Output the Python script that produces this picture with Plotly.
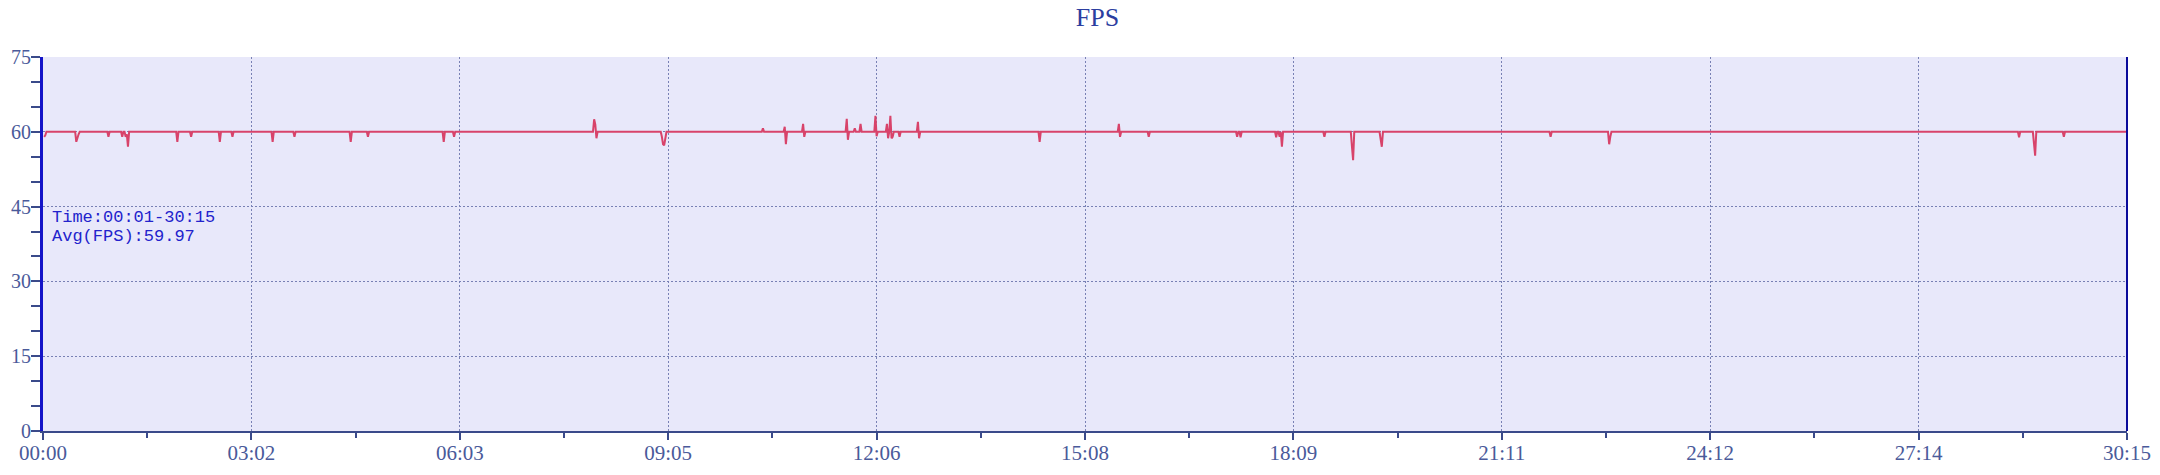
import plotly.graph_objects as go

# ---- data (seconds since start, FPS) ----
times = [1, 2, 3,
         28, 29, 30, 31, 32,
         56, 57, 58,
         68, 69, 70,
         71, 72, 73, 74, 75,
         116, 117, 118,
         128, 129, 130,
         153, 154, 155,
         164, 165, 166,
         199, 200, 201,
         218, 219, 220,
         267, 268, 269,
         282, 283, 284,
         348, 349, 350,
         357, 358, 359,
         479, 480, 481, 482, 483,
         538, 539, 540, 541, 542, 543,
         626, 627, 628,
         645, 646, 647, 648,
         661, 662, 663, 664,
         699, 700, 701, 702,
         706, 707, 708,
         711, 712, 713,
         724, 725, 726, 727,
         734, 735, 736, 737, 738, 739, 740, 741,
         745, 746, 747,
         761, 762, 763, 764,
         867, 868, 869,
         936, 937, 938, 939,
         962, 963, 964,
         1039, 1040, 1041, 1042, 1043, 1044,
         1073, 1074, 1075,
         1076, 1077, 1078, 1079, 1080,
         1115, 1116, 1117,
         1139, 1140, 1141, 1142,
         1164, 1165, 1166, 1167,
         1312, 1313, 1314,
         1363, 1364, 1365, 1366,
         1720, 1721, 1722,
         1733, 1734, 1735, 1736,
         1759, 1760, 1761,
         1815]
fps = [59, 59.3, 60,
       60, 58, 59, 59.5, 60,
       60, 59, 60,
       60, 59, 60,
       60, 59, 59.5, 57, 60,
       60, 58, 60,
       60, 59, 60,
       60, 58, 60,
       60, 59, 60,
       60, 58, 60,
       60, 59, 60,
       60, 58, 60,
       60, 59, 60,
       60, 58, 60,
       60, 59, 60,
       60, 62.5, 61.5, 58.7, 60,
       60, 59, 57.5, 57.3, 59, 60,
       60, 60.7, 60,
       60, 61, 57.5, 60,
       60, 61.6, 59, 60,
       60, 62.6, 58.4, 60,
       60, 60.7, 60,
       60, 61.6, 60,
       60, 63.2, 59.1, 60,
       60, 61.6, 58.7, 60, 63.2, 58.7, 59, 60,
       60, 59, 60,
       60, 62, 58.7, 60,
       60, 58, 60,
       60, 61.6, 59, 60,
       60, 59, 60,
       60, 59, 60, 60, 58.9, 60,
       60, 58.9, 60,
       60, 59, 60, 57, 60,
       60, 59, 60,
       60, 57, 54.3, 60,
       60, 58.5, 57, 60,
       60, 59, 60,
       60, 57.5, 59, 60,
       60, 58.9, 60,
       60, 57.6, 55.2, 60,
       60, 59, 60,
       60]

x_tick_vals = [0, 181.5, 363, 544.5, 726, 907.5, 1089, 1270.5, 1452, 1633.5, 1815]
x_tick_text = ["00:00", "03:02", "06:03", "09:05", "12:06", "15:08",
               "18:09", "21:11", "24:12", "27:14", "30:15"]
y_tick_vals = [0, 15, 30, 45, 60, 75]

title_text = "FPS"
info_lines = ["Time:00:01-30:15", "Avg(FPS):59.97"]

label_color = "#4a5a9a"
grid_color = "#7880b4"

fig = go.Figure()
fig.add_trace(go.Scatter(
    x=times, y=fps, mode="lines", name="FPS",
    line=dict(color="#d8436a", width=2),
    showlegend=False,
))

# the page body adds an 8px offset, so the figure is sized to end at the window edge
fig.update_layout(
    width=2152, height=467,
    margin=dict(l=35, r=33, t=49, b=44),
    paper_bgcolor="white",
    plot_bgcolor="#e8e8fa",
    title=dict(text=title_text, x=0.506, xref="paper", y=1, yref="container",
               xanchor="center", yanchor="top",
               font=dict(family="Liberation Serif", size=26, color="#2c3ea0")),
    font=dict(family="Liberation Serif", size=21, color=label_color),
)

fig.update_xaxes(
    range=[0, 1815], automargin=False, ticklabeloverflow="allow",
    ticklabelstandoff=-5,
    tickmode="array", tickvals=x_tick_vals, ticktext=x_tick_text,
    ticks="outside", ticklen=7, tickwidth=1.5, tickcolor="#3a4a8a",
    tickfont=dict(family="Liberation Serif", size=21, color=label_color),
    showline=True, linecolor="#3a4a8a", linewidth=1.5,
    showgrid=True, gridcolor=grid_color, griddash="2px,2px", gridwidth=1.2,
    zeroline=False,
    minor=dict(tick0=90.75, dtick=181.5, ticks="outside", ticklen=5,
               tickcolor="#3a4a8a", tickwidth=1.5, showgrid=False),
)
fig.update_yaxes(
    range=[0, 75], automargin=False, ticklabeloverflow="allow",
    ticklabelstandoff=-4,
    tickmode="array", tickvals=y_tick_vals,
    ticks="outside", ticklen=9, tickwidth=1.5, tickcolor="#3a4a8a",
    tickfont=dict(family="Liberation Serif", size=20, color=label_color),
    showline=True, linecolor="#1414c8", linewidth=3,
    showgrid=True, gridcolor=grid_color, griddash="2px,2px", gridwidth=1.2,
    zeroline=False,
    minor=dict(dtick=5, ticks="outside", ticklen=9, tickcolor="#3a4a8a",
               tickwidth=1.5, showgrid=False),
)

# right border line of the plot area
fig.add_shape(type="line", xref="paper", yref="paper",
              x0=1, x1=1, y0=0, y1=1,
              line=dict(color="#0a0a9a", width=2))

for i, line_text in enumerate(info_lines):
    fig.add_annotation(
        text=line_text, xref="paper", yref="paper",
        x=0.0034, y=0.602 - i * 0.051, xanchor="left", yanchor="top",
        showarrow=False, align="left",
        font=dict(family="Liberation Mono", size=17, color="#2222cc"),
    )

fig.write_html("out.html")
